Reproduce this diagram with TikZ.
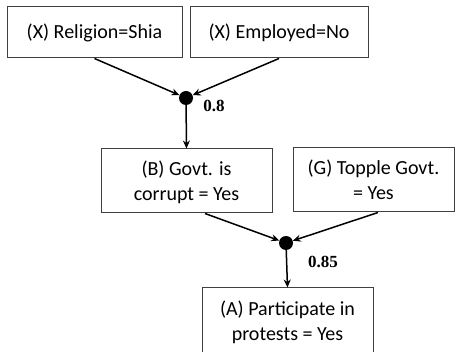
\documentclass[tikz,border=0pt]{standalone}
\usepackage{fontspec}
\setmainfont{Carlito}
\newfontfamily\numfont{Liberation Serif}
\usepackage{tikz}
\usetikzlibrary{arrows.meta}

\begin{document}
\begin{tikzpicture}[x=1pt, y=-1pt,
  var/.style={draw=black!75, line width=1pt, align=center, inner sep=0pt,
    font=\fontsize{20}{25}\selectfont},
  twoline/.style={var, minimum width=171pt, minimum height=64pt, text height=40pt, text depth=0pt},
  dot/.style={circle, fill=black, inner sep=0pt, minimum size=14pt},
  wt/.style={font=\numfont\bfseries\fontsize{17}{19}\selectfont},
  link/.style={-{Stealth[length=8pt,width=7pt]}, line width=1.5pt}]
\useasboundingbox (0,0) rectangle (463,352);
\node[var, minimum width=175pt, minimum height=51pt] (rel) at (94.5,32.5) {(X) Religion=Shia};
\node[var, minimum width=178pt, minimum height=51pt] (emp) at (279,32.5) {(X) Employed=No};
\node[dot] (and1) at (186,98) {};
\node[wt] (w1) at (214,106) {0.8};
\node[twoline] (corr) at (186.5,181) {(B) Govt. is\\corrupt = Yes};
\node[twoline, minimum width=161pt] (topp) at (373.5,180) {(G) Topple Govt.\\= Yes};
\node[dot] (and2) at (286,243) {};
\node[wt] (w2) at (323,262) {0.85};
\node[twoline, minimum height=66pt] (prot) at (287.5,321) {(A) Participate in\\protests = Yes};

\draw[link] (rel.south) -- (and1);
\draw[link] (emp.south) -- (and1);
\draw[link] (and1) -- (corr.north);
\draw[link] ([xshift=18.5pt]corr.south) -- (and2);
\draw[link] ([xshift=4.5pt]topp.south) -- (and2);
\draw[link] (and2) -- (prot.north);
\end{tikzpicture}
\end{document}
